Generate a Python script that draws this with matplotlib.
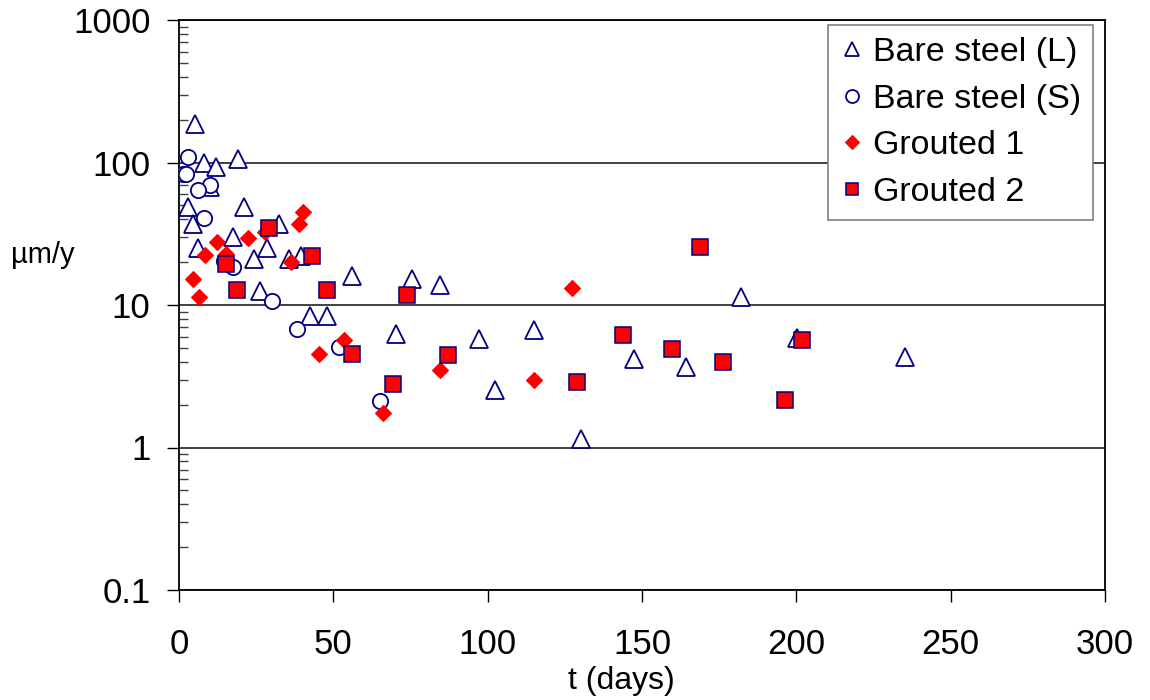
import matplotlib
matplotlib.use("Agg")
import matplotlib.pyplot as plt
from matplotlib.ticker import LogLocator, NullFormatter, FixedLocator, FixedFormatter

plt.rcParams['font.family'] = ['Liberation Sans', 'DejaVu Sans']

# ---- data ----
bare_L_t = [5.2, 8.2, 12.1, 19.0, 10.0, 3.0, 21.1, 4.4, 32.5, 17.4, 28.5, 6.3, 24.4, 35.7,
            39.5, 56.2, 26.3, 42.5, 48.1, 70.2, 75.6, 84.6, 97.2, 115.0, 147.4, 102.4,
            130.1, 182.1, 164.1, 200.2, 235.3]
bare_L_v = [186, 100, 93, 105, 67, 49, 49, 37, 37, 30, 25, 25, 21, 21,
            22, 15.9, 12.6, 8.4, 8.4, 6.3, 15.1, 13.9, 5.8, 6.7, 4.2, 2.55,
            1.15, 11.4, 3.65, 5.9, 4.3]

bare_S_t = [2.8, 1.2, 2.3, 10.1, 6.3, 8.2, 14.7, 17.4, 30.0, 38.2, 51.9, 65.1]
bare_S_v = [110, 83, 83, 69, 64, 41, 20.5, 18.6, 10.6, 6.8, 5.1, 2.12]

grout1_t = [4.4, 6.6, 8.5, 12.2, 15.2, 22.2, 28.0, 36.2, 39.0, 40.3, 45.4, 53.5, 66.1,
            84.5, 115.0, 127.4]
grout1_v = [15.3, 11.3, 22.5, 27.9, 22.8, 29.4, 32.7, 19.9, 36.8, 45, 4.55, 5.65, 1.75,
            3.5, 2.97, 13.2]

grout2_t = [15.2, 18.8, 29.2, 43.0, 47.8, 56.2, 69.2, 74.0, 87.2, 129.0, 143.9, 159.8,
            168.7, 176.3, 196.2, 201.8]
grout2_v = [19.4, 12.7, 34.5, 22.2, 12.7, 4.5, 2.78, 11.8, 4.43, 2.86, 6.15, 4.95,
            25.5, 3.97, 2.17, 5.72]

labels = ["Bare steel (L)", "Bare steel (S)", "Grouted 1", "Grouted 2"]
xticks = [0, 50, 100, 150, 200, 250, 300]
yticks = [0.1, 1, 10, 100, 1000]
ytick_labels = ["0.1", "1", "10", "100", "1000"]

NAVY = "#000080"
RED = "#FF0000"

fig = plt.figure(figsize=(11.5, 7.0), dpi=100)
ax = fig.add_axes([179/1150, 1 - 590/700, (1105-179)/1150, (590-20)/700])

ax.set_yscale('log')
ax.set_xlim(0, 300)
ax.set_ylim(0.1, 1000)

ax.yaxis.grid(True, which='major', color='#333333', lw=1.3, zorder=0)
ax.set_axisbelow(True)

h1, = ax.plot(bare_L_t, bare_L_v, ls='none', marker='^', ms=12.5, mfc='white',
              mec=NAVY, mew=1.3, zorder=3)
h2, = ax.plot(bare_S_t, bare_S_v, ls='none', marker='o', ms=11, mfc='white',
              mec=NAVY, mew=1.3, zorder=4)
h3, = ax.plot(grout1_t, grout1_v, ls='none', marker='D', ms=8.5, mfc=RED,
              mec=RED, mew=0.8, zorder=5)
h4, = ax.plot(grout2_t, grout2_v, ls='none', marker='s', ms=11, mfc=RED,
              mec=NAVY, mew=1.1, zorder=6)

ax.xaxis.set_major_locator(FixedLocator(xticks))
ax.set_xticklabels([str(v) for v in xticks])
ax.yaxis.set_major_locator(FixedLocator(yticks))
ax.yaxis.set_major_formatter(FixedFormatter(ytick_labels))
ax.yaxis.set_minor_locator(LogLocator(base=10, subs=range(2, 10), numticks=20))
ax.yaxis.set_minor_formatter(NullFormatter())

ax.tick_params(axis='both', which='major', direction='out', length=8.5, width=1.0,
               labelsize=25, colors='black')
ax.tick_params(axis='y', which='major', pad=12)
ax.tick_params(axis='x', which='major', pad=19)
ax.tick_params(axis='y', which='minor', direction='in', length=6.5, width=1.0,
               color='#404040')
ax.tick_params(axis='x', which='minor', bottom=False)

for s in ax.spines.values():
    s.set_linewidth(1.3)
    s.set_color('black')

fig.text(621/1150, 1 - 681/700, "t (days)", fontsize=23, ha='center', va='center')
fig.text(43/1150, 1 - 255/700, "µm/y", fontsize=21, ha='center', va='center')

leg = ax.legend([h1, h2, h3, h4], labels, loc='upper right',
                bbox_to_anchor=(1093/1150, 1 - 25/700), bbox_transform=fig.transFigure,
                fontsize=24.5, frameon=True, fancybox=False, framealpha=1,
                edgecolor='#808080', borderpad=0.35, handlelength=0.68,
                handletextpad=0.29, labelspacing=0.46, borderaxespad=0,
                markerscale=0.85)
leg.get_frame().set_linewidth(1.2)

fig.savefig("out.png", dpi=100, facecolor='white')
